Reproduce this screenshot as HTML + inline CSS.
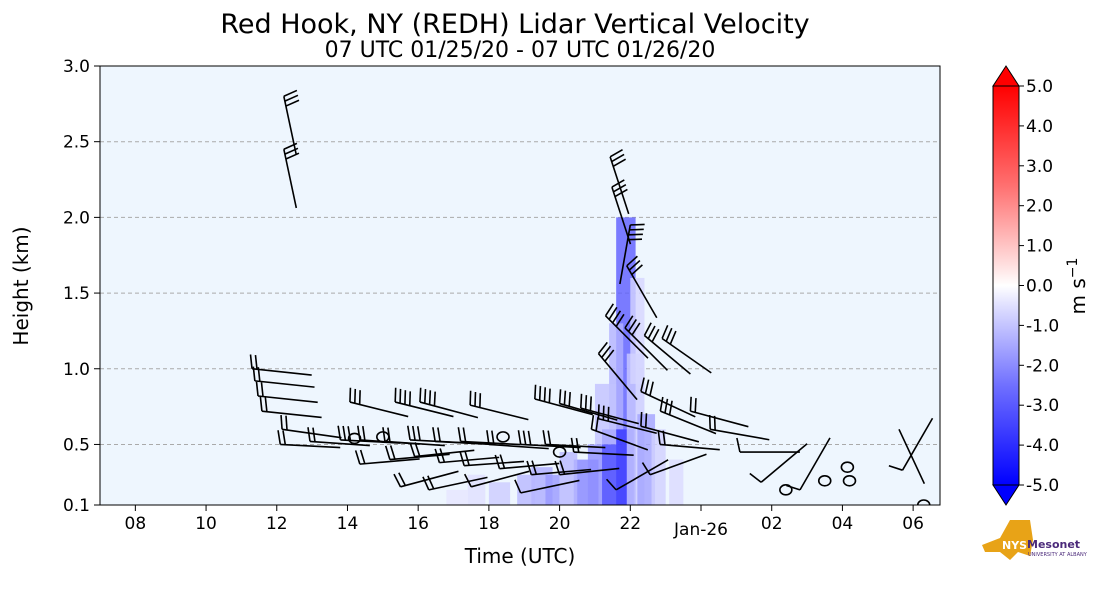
<!DOCTYPE html>
<html><head><meta charset="utf-8">
<style>
body{margin:0;background:#fff;width:1101px;height:600px;overflow:hidden;font-family:"Liberation Sans","DejaVu Sans",sans-serif}
svg text{font-family:"DejaVu Sans","Liberation Sans",sans-serif}
</style></head><body>
<svg id="chart" width="1101" height="600" xmlns="http://www.w3.org/2000/svg">
<defs>
<linearGradient id="cbar" x1="0" y1="1" x2="0" y2="0">
<stop offset="0" stop-color="#0000ff"/><stop offset="0.25" stop-color="#7070ff"/>
<stop offset="0.45" stop-color="#e0e0ff"/><stop offset="0.5" stop-color="#ffffff"/>
<stop offset="0.55" stop-color="#ffe0e0"/><stop offset="0.75" stop-color="#ff7070"/>
<stop offset="1" stop-color="#ff0000"/></linearGradient>
<clipPath id="plotclip"><rect x="100" y="66" width="840" height="439"/></clipPath>
</defs>
<text x="515" y="33" font-size="27" text-anchor="middle">Red Hook, NY (REDH) Lidar Vertical Velocity</text>
<text x="520" y="57" font-size="22" text-anchor="middle">07 UTC 01/25/20 - 07 UTC 01/26/20</text>
<rect x="100" y="66" width="840" height="439" fill="#eef6fe"/>
<g id="grid"></g>
<g id="cells" clip-path="url(#plotclip)"></g>
<g id="barbs" clip-path="url(#plotclip)" stroke="#000" stroke-width="1.6" fill="none"></g>
<rect x="100" y="66" width="840" height="439" fill="none" stroke="#000" stroke-width="1"/>
<g id="axes"></g>
<text x="520" y="563" font-size="20" text-anchor="middle">Time (UTC)</text>
<text transform="translate(28,286) rotate(-90)" font-size="20" text-anchor="middle">Height (km)</text>
<g>
<polygon points="993,86 1006,66 1019,86" fill="#ff0000" stroke="#000" stroke-width="1"/>
<polygon points="993,485 1006,505 1019,485" fill="#0000ff" stroke="#000" stroke-width="1"/>
<rect x="993" y="86" width="26" height="399" fill="url(#cbar)" stroke="#000" stroke-width="1"/>
<g id="cbticks"></g>
<text transform="translate(1085,286) rotate(-90)" font-size="20" text-anchor="middle">m s<tspan dy="-8" font-size="14">−1</tspan></text>
</g>
<g>
<polygon points="982,545 1000,538 1010,520 1030,520 1033,540 1030,556 1018,552 1010,560 1000,552 985,552" fill="#e8a317"/>
<text x="1002" y="549" font-size="11" font-weight="bold" fill="#fff">NYS</text>
<text x="1027" y="548" font-size="11" font-weight="bold" fill="#4b2a7a">Mesonet</text>
<text x="1028" y="556" font-size="5" fill="#4b2a7a">UNIVERSITY AT ALBANY</text>
</g>
</svg>
<script>
const xTickHours=[1,3,5,7,9,11,13,15,17,19,21,23];
const xTickLabels=["08","10","12","14","16","18","20","22","Jan-26","02","04","06"];
const yTicks=[0.1,0.5,1.0,1.5,2.0,2.5,3.0];
const cbValues=[5,4,3,2,1,0,-1,-2,-3,-4,-5];
// velocity cells: hour since 07 UTC, bottom km, top km, velocity
const cellHour=[14.6,14.2,14.9,15.2,13.4,12.2,11.8,11.0,12.6,13.0,15.6,16.1,10.4,9.8,15.0,14.4,14.0,13.8];
const cellBottom=[0.1,0.1,0.1,0.1,0.1,0.1,0.1,0.1,0.1,0.1,0.1,0.1,0.1,0.1,0.9,0.6,0.5,0.1];
const cellTop=[2.0,0.6,1.1,0.7,0.4,0.35,0.3,0.25,0.3,0.45,0.6,0.4,0.3,0.2,1.6,1.3,0.9,0.5];
const cellVal=[-3.2,-3.8,-1.0,-1.8,-2.4,-1.6,-1.4,-1.0,-2.0,-1.4,-0.9,-0.7,-0.6,-0.5,-0.8,-1.5,-1.2,-2.2];
const cellWidth=[0.55,0.9,0.5,0.5,0.7,0.6,0.5,0.6,0.4,0.5,0.4,0.4,0.5,0.6,0.4,0.4,0.6,0.4];
// wind barbs: hour since 07 UTC, km, staff angle deg, number of ticks
const barbHour=[4.3,4.38,4.47,4.58,5.15, 7.07,8.35,9.05,10.47,12.3,13.0,13.6,14.1,
 5.1,5.94,6.8,7.35,8.06,8.77,9.48,10.2,11.0,11.9,12.6,13.4,
 7.35,8.2,8.9,9.6,10.3,11.3,12.2,13.0, 8.5,9.3,10.5,11.9,
 5.2,5.2,14.43,14.48,15.0,14.9,14.3,14.1,14.85,15.4,15.9,15.3,15.85,15.3,15.84,15.56,
 16.7,17.26,18.1,18.7,19.8,22.6,22.7,13.9,14.6];
const barbKm=[1.0,0.92,0.82,0.72,0.6, 0.78,0.78,0.78,0.76,0.8,0.77,0.74,0.67,
 0.5,0.52,0.53,0.53,0.52,0.53,0.52,0.52,0.5,0.5,0.5,0.45,
 0.37,0.4,0.42,0.38,0.36,0.34,0.3,0.3, 0.22,0.2,0.22,0.18,
 2.8,2.45,2.4,2.2,1.95,1.68,1.35,1.1,1.27,1.22,1.2,0.85,0.72,0.62,0.5,0.3,
 0.72,0.6,0.45,0.25,0.2,0.6,0.33,0.6,0.2];
const barbAng=[6,6,6,6,8, 14,14,15,14,15,16,15,14,
 3,4,3,4,4,3,3,3,4,3,3,3,
 -5,-5,-6,-5,-4,-5,-5,-6, -15,-12,-15,-12,
 78,78,72,72,100,60,45,50,45,40,35,25,22,15,5,-20,
 15,10,0,-40,-60,65,-60,20,-30];
const barbTicks=[2,2,2,2,2, 3,4,4,3,4,3,3,3,
 2,2,3,2,2,3,2,2,2,3,2,2,
 2,2,2,2,2,2,2,2, 2,2,1,1,
 3,3,3,3,4,3,4,3,3,3,3,3,3,2,2,1,
 2,2,1,1,1,0,1,2,1];
const circHour=[21.14,21.2,20.5,23.3,19.4,8.0,7.2,13.0,11.4];
const circKm=[0.35,0.26,0.26,0.1,0.2,0.55,0.54,0.45,0.55];

const X0=100,X1=940,H0=0,H1=23.76,Y0=505,Y1=66,K0=0.1,K1=3.0,L=60;
const xs=h=>X0+(h-H0)/(H1-H0)*(X1-X0);
const ys=k=>Y0-(k-K0)/(K1-K0)*(Y0-Y1);
const NS="http://www.w3.org/2000/svg";
function mk(t,a,p){const e=document.createElementNS(NS,t);for(const k in a)e.setAttribute(k,a[k]);p.appendChild(e);return e;}
const grid=document.getElementById('grid'),axes=document.getElementById('axes');
yTicks.forEach(k=>{
  const y=ys(k);
  if(k>0.1&&k<3){const g=mk('line',{x1:X0,x2:X1,y1:y,y2:y,stroke:'#aaa','stroke-dasharray':'4,3','stroke-width':1},grid);
  
  }
  mk('line',{x1:X0-6,x2:X0,y1:y,y2:y,stroke:'#000'},axes);
  const t=mk('text',{x:X0-10,y:y+6,'font-size':17,'text-anchor':'end'},axes);t.textContent=k.toFixed(1);
  
  
});
xTickHours.forEach((h,i)=>{
  const x=xs(h);
  mk('line',{x1:x,x2:x,y1:Y0,y2:Y0+6,stroke:'#000'},axes);
  const t=mk('text',{x:x,y:i==8?535:529,'font-size':17,'text-anchor':'middle'},axes);t.textContent=xTickLabels[i];
  
  
});
function col(v){
  const a=Math.min(1,Math.abs(v)/5);
  const c=Math.round(255*(1-a));
  return v<0?`rgb(${c},${c},255)`:`rgb(255,${c},${c})`;
}
const cells=document.getElementById('cells');
cellHour.forEach((h,i)=>{
  const r=mk('rect',{x:xs(h),y:ys(cellTop[i]),width:xs(cellWidth[i])-xs(0),height:ys(cellBottom[i])-ys(cellTop[i]),fill:col(cellVal[i]),opacity:0.8},cells);
  
  
});
const barbs=document.getElementById('barbs');
barbHour.forEach((h,i)=>{
  const bx=xs(h),by=ys(barbKm[i]);
  const a=barbAng[i]*Math.PI/180;
  const dx=Math.cos(a),dy=Math.sin(a);
  const g=mk('g',{},barbs);
  
  
  mk('line',{x1:bx,y1:by,x2:bx+L*dx,y2:by+L*dy},g);
  for(let t=0;t<barbTicks[i];t++){
    const px=bx+dx*t*5,py=by+dy*t*5;
    mk('line',{x1:px,y1:py,x2:px+dy*14-dx*3,y2:py-dx*14-dy*3},g);
  }
});
circHour.forEach((h,i)=>{
  const c=mk('ellipse',{cx:xs(h),cy:ys(circKm[i]),rx:6,ry:5},barbs);
  
  
});
const cb=document.getElementById('cbticks');
cbValues.forEach(v=>{
  const y=86+(5-v)/10*399;
  mk('line',{x1:1019,x2:1024,y1:y,y2:y,stroke:'#000'},cb);
  const t=mk('text',{x:1026,y:y+6,'font-size':17},cb);t.textContent=v.toFixed(1);
  
  
});
</script>
</body></html>
